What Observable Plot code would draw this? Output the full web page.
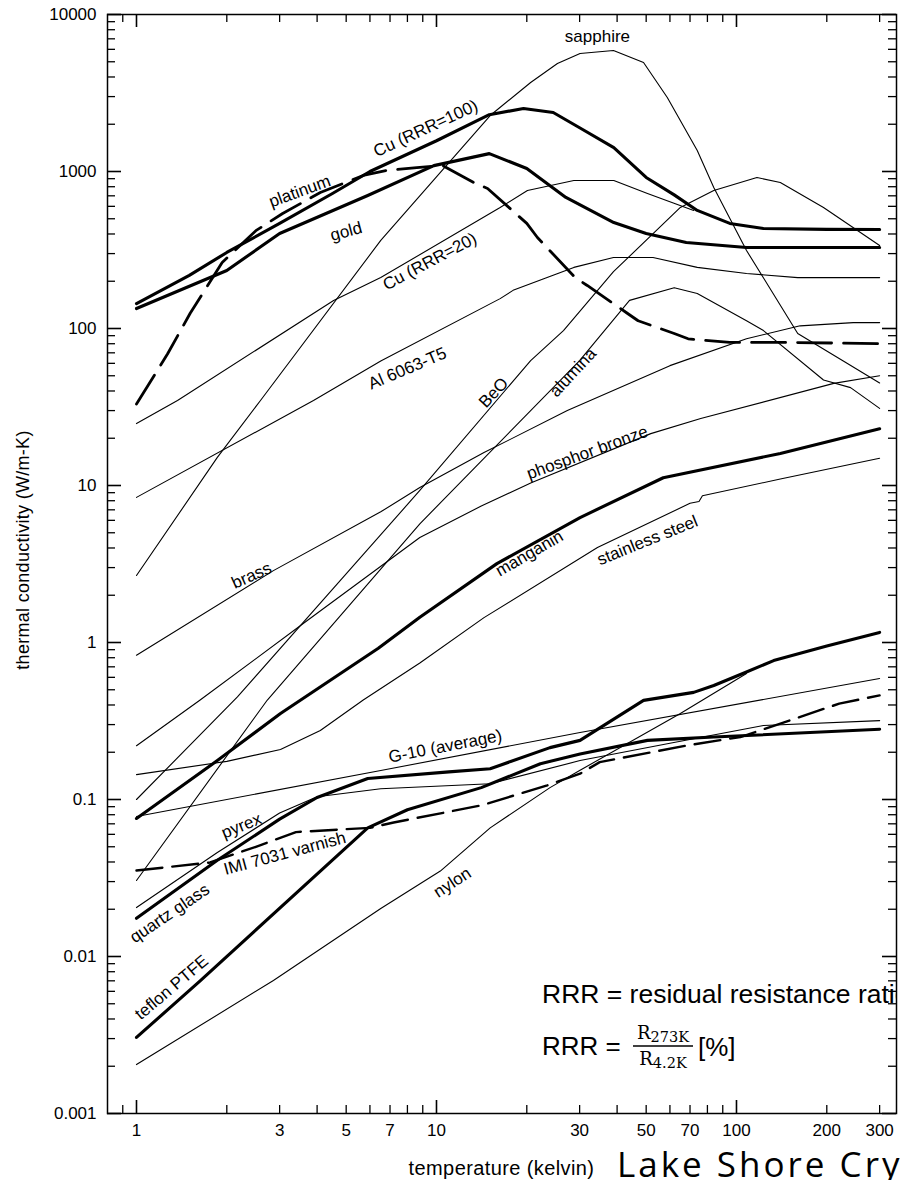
<!DOCTYPE html>
<html><head><meta charset="utf-8">
<script src="https://cdn.jsdelivr.net/npm/d3@7"></script>
<script src="https://cdn.jsdelivr.net/npm/@observablehq/plot@0.6"></script>
<style>
html,body{margin:0;padding:0;background:#fff;overflow:hidden;width:902px;height:1180px;}
#wrap{position:relative;width:902px;height:1180px;}
</style></head><body><div id="wrap"></div>
<script>
// ---------- axis ticks ----------
const xMajorTicks = [1, 10, 100];
const xMinorTicks = [0.9, 2, 3, 4, 5, 6, 7, 8, 9, 20, 30, 40, 50, 60, 70, 80, 90, 200, 300];
const xTickLabels = [1, 3, 5, 7, 10, 30, 50, 70, 100, 200, 300];
const yDecades = [0.001, 0.01, 0.1, 1, 10, 100, 1000, 10000];
const yMinorMultipliers = [2, 3, 4, 5, 6, 7, 8, 9];
const yTickLabels = ["0.001", "0.01", "0.1", "1", "10", "100", "1000", "10000"];

// ---------- series: [temperature K, conductivity W/m-K] ----------
const cu100 = [[1,144],[1.5,218],[2,305],[3,467],[4.5,724],[6,1000],[10,1570],[15,2300],[19.5,2520],[24.5,2375],[30,1900],[39,1420],[50,916],[62,710],[74,565],[95,467],[123,433],[200,428],[300,427]];
const gold = [[1,134],[2,234],[3,403],[5.9,703],[9.8,1090],[15,1300],[20,1045],[27,683],[39,473],[50,403],[68,353],[108,328],[300,328]];
const platinum = [[1,33],[1.27,69],[1.51,125],[1.93,263],[2.5,420],[3.07,540],[4.1,735],[5.7,944],[6.8,1014],[8.6,1060],[10.5,1090],[13.5,838],[14.8,780],[20,467],[21.7,380],[29,211],[31.8,188],[43,126],[47,112],[62,93],[69,86],[95,81.5],[153,81.5],[300,80]];
const cu20 = [[1,24.8],[1.37,34.8],[4.54,150.7],[6.52,211],[16.3,590],[20.1,757],[28.7,876],[39,876],[50.5,724],[72,565]];
const al6063 = [[1,8.4],[3.89,34.8],[6.52,62],[16.3,155],[18,175],[28.7,245],[38.9,283],[52.7,283],[74,245],[108,224],[160,211],[300,211]];
const sapphire = [[1,2.67],[1.86,15.1],[2.59,34.8],[6.52,364],[15.1,2273],[20.6,3690],[25.3,4875],[30.1,5650],[38.9,5900],[49,4950],[58.8,2960],[74,1360],[84,790],[108,314],[160,93],[227,62],[300,45]];
const beo = [[1,0.1],[2.17,0.45],[8.8,9.3],[20.6,62.5],[26.5,97],[38.9,230],[65,590],[84,757],[117,916],[140,851],[195,590],[300,338]];
const alumina = [[1,0.0305],[2.73,0.43],[8.8,5.7],[30,62.5],[44,151],[62,182],[74,167],[108,112],[123,97],[195,47],[240,42],[300,31]];
const brass = [[1,0.83],[2.86,2.87],[6.52,6.8],[8.8,9.7],[14.4,16.2],[27.3,30],[60,58],[108,86],[163,104],[245,109],[300,109]];
const phosphorBronze = [[1,0.22],[1.63,0.43],[3.71,1.38],[8.8,4.66],[14.1,7.4],[20.7,10.4],[51.8,21.4],[76,26.7],[211,44.7],[300,50]];
const manganin = [[1,0.0757],[1.86,0.177],[3.02,0.353],[6.4,0.92],[8.8,1.45],[15.9,3.18],[30.1,6.25],[57,11.2],[140,16],[300,23]];
const stainless = [[1,0.144],[2,0.175],[3.02,0.208],[4.1,0.275],[5.7,0.43],[8.8,0.74],[14.4,1.44],[34.4,4.03],[70,7.7],[75,7.9],[77,8.6],[140,11],[300,14.9]];
const g10 = [[1,0.078],[6.52,0.153],[30.1,0.267],[300,0.59]];
const pyrex = [[1,0.0205],[1.86,0.046],[3,0.082],[4,0.104],[6.52,0.117],[15.1,0.126],[30.1,0.177],[60,0.228],[123,0.296],[300,0.318]];
const quartz = [[1,0.0175],[1.86,0.041],[3,0.075],[4,0.103],[5.9,0.136],[11,0.15],[15.1,0.157],[23.9,0.214],[30.1,0.238],[49,0.428],[72,0.481],[84,0.532],[105,0.635],[133,0.767],[200,0.95],[300,1.16]];
const imiVarnish = [[1,0.0353],[1.76,0.0397],[2.5,0.05],[3.4,0.062],[6,0.066],[7.2,0.0714],[14.1,0.0917],[23.4,0.123],[30.1,0.146],[35,0.173],[68.5,0.221],[103,0.25],[150,0.318],[220,0.408],[300,0.46]];
const nylon = [[1,0.00205],[2.86,0.00703],[6.52,0.0202],[10.3,0.035],[15.1,0.066],[23.9,0.119],[30,0.153],[65,0.353],[108,0.635]];
const teflon = [[1,0.00305],[1.63,0.007],[5.9,0.066],[8,0.086],[14.1,0.119],[22.2,0.169],[30.1,0.195],[50.5,0.238],[84,0.25],[300,0.28]];

const seriesTable = {cu100, gold, platinum, cu20, al6063, sapphire, beo, alumina, brass, phosphorBronze, manganin, stainless, g10, pyrex, quartz, imiVarnish, nylon, teflon};

// curve labels (text, anchor temperature, anchor conductivity, rotation)
const curveLabelText = ["sapphire","Cu (RRR=100)","platinum","gold","Cu (RRR=20)","Al 6063-T5","BeO","alumina","phosphor bronze","brass","manganin","stainless steel","G-10 (average)","pyrex","IMI 7031 varnish","quartz glass","nylon","teflon PTFE"];
const curveLabelT = [34.4, 9.2, 3.5, 5.0, 9.5, 8.0, 15.5, 28.5, 31.8, 2.42, 20.4, 50.5, 10.7, 2.24, 3.12, 1.29, 11.3, 1.31];
const curveLabelK = [7240, 1880, 747, 415, 267, 55.6, 39, 52.5, 16.2, 2.67, 3.69, 4.47, 0.218, 0.068, 0.0453, 0.0188, 0.0296, 0.00635];
const curveLabelAngle = [0, -25, -20, -15, -28, -23, -47, -47, -20, -24, -30, -22, -11, -22, -15, -34, -33, -40];

// ---------- styles ----------
const thickNames = ["cu100", "gold", "manganin", "quartz", "teflon"];
const W = 902, H = 1180, mL = 107, mR = 6, mT = 14, mB = 67;
const plotW = W - mL - mR, plotH = H - mT - mB;
const FONT = "'Liberation Sans', Arial, Helvetica, sans-serif";

const rows = Object.entries(seriesTable).flatMap(([name, pts]) => pts.map(([T, k]) => ({name, T, k})));
const yMinorTicks = yDecades.slice(0, -1).flatMap(d => yMinorMultipliers.map(m => d * m));
const labels = curveLabelText.map((t, i) => ({text: t, T: curveLabelT[i], k: curveLabelK[i], angle: curveLabelAngle[i]}));

const thin = rows.filter(d => !thickNames.includes(d.name) && d.name !== "platinum" && d.name !== "imiVarnish");
const thick = rows.filter(d => thickNames.includes(d.name));

const plot = Plot.plot({
  width: W, height: H,
  marginLeft: mL, marginRight: mR, marginTop: mT, marginBottom: mB,
  style: {fontFamily: FONT, fontSize: "17px", background: "#fff", color: "#000", overflow: "visible"},
  x: {type: "log", domain: [0.8005, 341.5], axis: null},
  y: {type: "log", domain: [0.001, 10000], axis: null},
  marks: [
    Plot.line(thin, {x: "T", y: "k", z: "name", stroke: "#000", strokeWidth: 1.1, strokeLinejoin: "round"}),
    Plot.line(thick, {x: "T", y: "k", z: "name", stroke: "#000", strokeWidth: 3.1, strokeLinejoin: "round"}),
    Plot.line(rows.filter(d => d.name === "platinum"), {x: "T", y: "k", stroke: "#000", strokeWidth: 2.8, strokeDasharray: "34,12"}),
    Plot.line(rows.filter(d => d.name === "imiVarnish"), {x: "T", y: "k", stroke: "#000", strokeWidth: 2.4, strokeDasharray: "26,10"}),
    Plot.text(labels, {x: "T", y: "k", text: "text", rotate: "angle", fontSize: 17, fill: "#000", textAnchor: "middle", lineAnchor: "middle"}),
    Plot.frame({stroke: "#000", strokeWidth: 1.5}),
    Plot.tickX(xMinorTicks, {x: d => d, insetTop: plotH - 8, stroke: "#000", strokeWidth: 1.3}),
    Plot.tickX(xMajorTicks, {x: d => d, insetTop: plotH - 13, stroke: "#000", strokeWidth: 1.6}),
    Plot.tickX(xMinorTicks, {x: d => d, insetBottom: plotH - 8, stroke: "#000", strokeWidth: 1.3}),
    Plot.tickX(xMajorTicks, {x: d => d, insetBottom: plotH - 13, stroke: "#000", strokeWidth: 1.6}),
    Plot.tickY(yMinorTicks, {y: d => d, insetRight: plotW - 8, stroke: "#000", strokeWidth: 1.3}),
    Plot.tickY(yDecades, {y: d => d, insetRight: plotW - 14, stroke: "#000", strokeWidth: 1.6}),
    Plot.tickY(yMinorTicks, {y: d => d, insetLeft: plotW - 8, stroke: "#000", strokeWidth: 1.3}),
    Plot.tickY(yDecades, {y: d => d, insetLeft: plotW - 14, stroke: "#000", strokeWidth: 1.6}),
    Plot.text(xTickLabels, {x: d => d, text: d => String(d), frameAnchor: "bottom", lineAnchor: "top", dy: 10, fontSize: 17, fill: "#000"}),
    Plot.text(yDecades, {y: d => d, text: (d, i) => yTickLabels[i], frameAnchor: "left", textAnchor: "end", dx: -11, fontSize: 17, fill: "#000"})
  ]
});
document.getElementById("wrap").appendChild(plot);

// ---------- annotations (axis titles, notes) ----------
const svg = d3.select(plot);
const defs = svg.append("defs");
defs.append("clipPath").attr("id", "noteClip").append("rect").attr("x", 0).attr("y", 0).attr("width", mL + plotW + 1).attr("height", H);
const ann = svg.append("g").attr("fill", "#000").attr("text-anchor", "start");

ann.append("text").attr("x", mL + plotW / 2).attr("y", 1175).attr("text-anchor", "middle")
  .attr("font-family", FONT).attr("font-size", 20).attr("letter-spacing", 0.4).text("temperature (kelvin)");
ann.append("text").attr("transform", "translate(29,550) rotate(-90)").attr("text-anchor", "middle")
  .attr("font-family", FONT).attr("font-size", 18).attr("letter-spacing", 0.3).text("thermal conductivity (W/m-K)");

const note = ann.append("g").attr("clip-path", "url(#noteClip)").attr("font-family", FONT);
note.append("text").attr("x", 542).attr("y", 1003).attr("text-anchor", "start").attr("font-size", 26.5).text("RRR = residual resistance ratio");
note.append("text").attr("x", 542).attr("y", 1055).attr("text-anchor", "start").attr("font-size", 26).text("RRR =");
const SERIF = "'DejaVu Serif', 'Liberation Serif', serif";
const num = note.append("text").attr("x", 663).attr("y", 1039).attr("text-anchor", "middle").attr("font-family", SERIF);
num.append("tspan").attr("font-size", 18).text("R");
num.append("tspan").attr("font-size", 14.5).attr("dy", 3).text("273K");
note.append("line").attr("x1", 633).attr("x2", 693).attr("y1", 1046).attr("y2", 1046).attr("stroke", "#000").attr("stroke-width", 1.4);
const den = note.append("text").attr("x", 663).attr("y", 1065).attr("text-anchor", "middle").attr("font-family", SERIF);
den.append("tspan").attr("font-size", 18).text("R");
den.append("tspan").attr("font-size", 14.5).attr("dy", 3).text("4.2K");
note.append("text").attr("x", 698).attr("y", 1056).attr("text-anchor", "start").attr("font-size", 26).text("[%]");

ann.append("text").attr("x", 617).attr("y", 1177).attr("text-anchor", "start").attr("font-family", "'Open Sans', sans-serif")
  .attr("font-size", 35).attr("letter-spacing", 3).text("Lake Shore Cryogenics");
</script></body></html>
